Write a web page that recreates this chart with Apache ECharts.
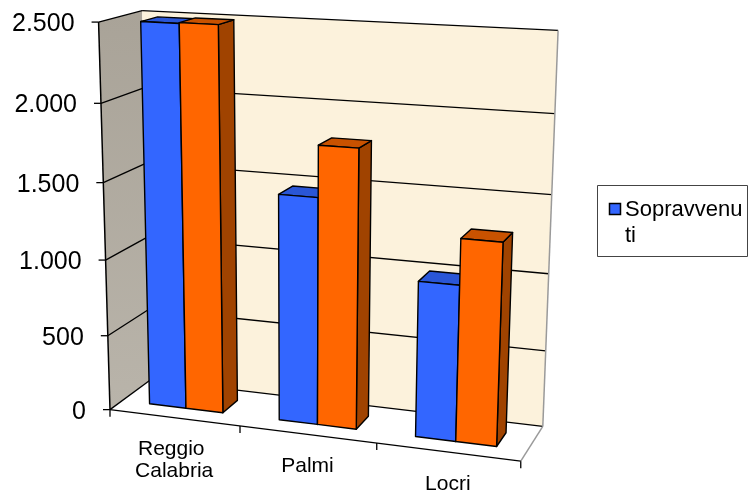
<!DOCTYPE html>
<html>
<head>
<meta charset="utf-8">
<script src="https://cdn.jsdelivr.net/npm/echarts@6/dist/echarts.min.js"></script>
<style>
  html, body { margin: 0; padding: 0; background: #ffffff; }
  #chart { width: 749px; height: 491px; }
</style>
</head>
<body>
<div id="chart"></div>
<script>
// ---- data ----
const categories = ['Reggio Calabria', 'Palmi', 'Locri'];
const sopravvenuti = [2490, 1470, 1000];
const serie2 = [2495, 1795, 1290];
const yTicks = [0, 500, 1000, 1500, 2000, 2500];
const yMax = 2500;
const legendLabel = 'Sopravvenuti';

// ---- styling ----
const FONT = '"Liberation Sans", Arial, sans-serif';
const BLUE = { front: '#3366FF', top: '#2A56D6', side: '#2247B5' };
const ORANGE = { front: '#FF6600', top: '#C95200', side: '#A04300' };

// Screen anchors of the 3-D plot box: [u (across), w (value), z (depth), px, py]
const boxAnchors = [
  [0, 1, 0, 98, 22],
  [0, 0, 0, 111, 408],
  [0, 1, 1, 144, 10],
  [0, 0, 1, 150, 380],
  [1, 1, 1, 557, 31],
  [1, 0, 1, 543, 425],
  [1, 0, 0, 520, 462],
  [1 / 3, 0, 0, 240, 426],
  [2 / 3, 0, 0, 377, 444],
  [1, 0.8, 1, 555, 113],
  [1, 0.2, 1, 547, 351],
  [0, 0.8, 1, 143.5, 88],
  [0, 0.4, 1, 147, 238],
  [0, 0.2, 1, 148, 310]
];

// Least-squares perspective camera (DLT) from the anchors
function fitProjection(anchors) {
  const sx = 375, sy = 245;
  const rows = [], rhs = [];
  anchors.forEach(function (a) {
    const X = a[0], Y = a[1], Z = a[2];
    const u = (a[3] - sx) / sx, v = (a[4] - sy) / sy;
    rows.push([X, Y, Z, 1, 0, 0, 0, 0, -u * X, -u * Y, -u * Z]); rhs.push(u);
    rows.push([0, 0, 0, 0, X, Y, Z, 1, -v * X, -v * Y, -v * Z]); rhs.push(v);
  });
  const n = 11;
  const M = [];
  for (let i = 0; i < n; i++) {
    const row = new Array(n + 1).fill(0);
    for (let r = 0; r < rows.length; r++) {
      for (let j = 0; j < n; j++) row[j] += rows[r][i] * rows[r][j];
      row[n] += rows[r][i] * rhs[r];
    }
    M.push(row);
  }
  for (let c = 0; c < n; c++) {
    let piv = c;
    for (let r = c + 1; r < n; r++) if (Math.abs(M[r][c]) > Math.abs(M[piv][c])) piv = r;
    const t = M[c]; M[c] = M[piv]; M[piv] = t;
    for (let r = 0; r < n; r++) {
      if (r === c) continue;
      const f = M[r][c] / M[c][c];
      for (let k = c; k <= n; k++) M[r][k] -= f * M[c][k];
    }
  }
  const p = M.map(function (row, i) { return row[n] / row[i]; });
  return function (X, Y, Z) {
    const d = p[8] * X + p[9] * Y + p[10] * Z + 1;
    return [sx + sx * (p[0] * X + p[1] * Y + p[2] * Z + p[3]) / d,
            sy + sy * (p[4] * X + p[5] * Y + p[6] * Z + p[7]) / d];
  };
}
const project = fitProjection(boxAnchors);

// Maps (category index, offset within band, value, depth) to screen via the grid scales
function makeMapper(params, api) {
  const cs = params.coordSys;
  const band = api.size([1, 0])[0];
  return function (cat, offset, value, z) {
    const c = api.coord([cat, value]);
    const u = (c[0] + offset * band - cs.x) / cs.width;
    const w = (cs.y + cs.height - c[1]) / cs.height;
    return project(u, w, z);
  };
}

function formatThousands(v) {
  return String(v).replace(/\B(?=(\d{3})+(?!\d))/g, '.');
}

function poly(points, fill, stroke, lw) {
  return {
    type: 'polygon',
    shape: { points: points },
    style: { fill: fill, stroke: stroke || null, lineWidth: lw || 0, lineJoin: 'round' }
  };
}
function seg(a, b, stroke, lw) {
  return {
    type: 'line',
    shape: { x1: a[0], y1: a[1], x2: b[0], y2: b[1] },
    style: { stroke: stroke, lineWidth: lw }
  };
}

// Walls, floor, gridlines and axis labels
function renderFrame(params, api) {
  const P = makeMapper(params, api);
  const last = categories.length - 1;
  const L = function (v, z) { return P(0, -0.5, v, z); };
  const R = function (v, z) { return P(last, 0.5, v, z); };
  const children = [];

  // side wall
  children.push({
    type: 'polygon',
    shape: { points: [L(0, 0), L(yMax, 0), L(yMax, 1), L(0, 1)] },
    style: {
      fill: new echarts.graphic.LinearGradient(0, 0, 0, 1, [
        { offset: 0, color: '#A9A398' },
        { offset: 1, color: '#B9B4AA' }
      ])
    }
  });
  // back wall
  children.push(poly([L(0, 1), L(yMax, 1), R(yMax, 1), R(0, 1)], '#FCF2DC'));
  // floor
  children.push(poly([L(0, 0), R(0, 0), R(0, 1), L(0, 1)], '#FFFFFF'));

  // gridlines on both walls
  yTicks.forEach(function (v) {
    children.push(seg(L(v, 0), L(v, 1), '#000', 1.3));
    children.push(seg(L(v, 1), R(v, 1), '#000', 1.3));
  });
  // back wall right edge and floor right edge
  children.push(seg(R(0, 1), R(yMax, 1), '#9A9A9A', 1.5));
  children.push(seg(R(0, 0), R(0, 1), '#9A9A9A', 1.5));
  // floor front edge
  children.push(seg(L(0, 0), R(0, 0), '#000', 1.3));
  // value axis line
  children.push(seg(L(0, 0), L(yMax, 0), '#000', 1.5));

  // value ticks and labels
  yTicks.forEach(function (v) {
    const p = L(v, 0);
    children.push(seg(p, [p[0] - 7, p[1]], '#000', 1.3));
    children.push({
      type: 'text',
      x: p[0] - 24, y: p[1] + 2,
      style: {
        text: formatThousands(v), fill: '#000',
        font: '25px ' + FONT, align: 'right', verticalAlign: 'middle'
      }
    });
  });

  // category ticks
  for (let i = 0; i <= categories.length; i++) {
    const p = i < categories.length ? P(i, -0.5, 0, 0) : R(0, 0);
    children.push(seg(p, [p[0], p[1] + 7], '#000', 1.3));
  }
  // category labels
  categories.forEach(function (name, i) {
    const p = P(i, 0, 0, 0);
    children.push({
      type: 'text',
      x: p[0], y: p[1] + 21,
      style: {
        text: name, fill: '#000', font: '21px ' + FONT,
        align: 'center', verticalAlign: 'top',
        width: 110, overflow: 'break', lineHeight: 22
      }
    });
  });
  return { type: 'group', children: children };
}

// One 3-D column per data item
function barRenderer(off0, off1, colors) {
  const Z0 = 0.3, Z1 = 0.7;
  return function (params, api) {
    const P = makeMapper(params, api);
    const cat = api.value(0), val = api.value(1);
    const fbl = P(cat, off0, 0, Z0), fbr = P(cat, off1, 0, Z0);
    const ftl = P(cat, off0, val, Z0), ftr = P(cat, off1, val, Z0);
    const bbr = P(cat, off1, 0, Z1);
    const btl = P(cat, off0, val, Z1), btr = P(cat, off1, val, Z1);
    return {
      type: 'group',
      children: [
        poly([fbr, ftr, btr, bbr], colors.side, '#000', 1.4),
        poly([ftl, ftr, btr, btl], colors.top, '#000', 1.4),
        poly([fbl, ftl, ftr, fbr], colors.front, '#000', 1.4)
      ]
    };
  };
}

const chart = echarts.init(document.getElementById('chart'), null, { renderer: 'canvas' });
chart.setOption({
  animation: false,
  backgroundColor: '#ffffff',
  grid: { left: 110, top: 20, width: 430, height: 390, show: false },
  xAxis: { type: 'category', data: categories, show: false },
  yAxis: { type: 'value', min: 0, max: yMax, interval: 500, show: false },
  series: [
    {
      type: 'custom', name: 'frame', z: 1, clip: false, silent: true,
      data: [[0, 0]],
      renderItem: renderFrame
    },
    {
      type: 'custom', name: legendLabel, z: 2, clip: false,
      itemStyle: { color: BLUE.front },
      data: sopravvenuti.map(function (v, i) { return [i, v]; }),
      encode: { x: 0, y: 1 },
      renderItem: barRenderer(-2 / 7, 0, BLUE)
    },
    {
      type: 'custom', name: 'Serie 2', z: 3, clip: false,
      itemStyle: { color: ORANGE.front },
      data: serie2.map(function (v, i) { return [i, v]; }),
      encode: { x: 0, y: 1 },
      renderItem: barRenderer(0, 2 / 7, ORANGE)
    }
  ],
  graphic: [{
    type: 'group', x: 597, y: 185,
    children: [
      { type: 'rect', shape: { x: 0.5, y: 0.5, width: 150, height: 71 },
        style: { fill: '#fff', stroke: '#444', lineWidth: 1 } },
      { type: 'rect', shape: { x: 12.5, y: 18.5, width: 11, height: 11 },
        style: { fill: BLUE.front, stroke: '#000', lineWidth: 1.5 } },
      { type: 'text', x: 28, y: 11.5,
        style: { text: legendLabel, fill: '#000', font: '22px ' + FONT,
                 width: 120, overflow: 'breakAll', lineHeight: 26, verticalAlign: 'top' } }
    ]
  }]
});
</script>
</body>
</html>
